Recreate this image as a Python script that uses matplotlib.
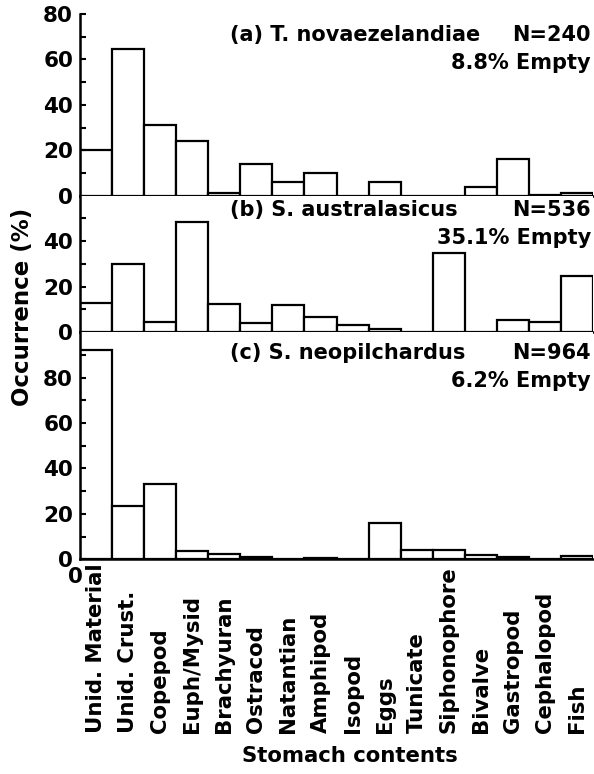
import numpy as np
import matplotlib
matplotlib.use("Agg")
import matplotlib.pyplot as plt

# stomach contents categories
categories = ["Unid. Material", "Unid. Crust.", "Copepod", "Euph/Mysid", "Brachyuran",
              "Ostracod", "Natantian", "Amphipod", "Isopod", "Eggs", "Tunicate",
              "Siphonophore", "Bivalve", "Gastropod", "Cephalopod", "Fish"]

# occurrence (%) per species
occ_a = [20, 64.5, 31, 24, 1, 14, 6, 10, 0, 6, 0, 0, 4, 16, 0.3, 1]
occ_b = [13, 30, 4.5, 48.5, 12.5, 4, 12, 6.5, 3, 1.3, 0, 35, 0, 5.5, 4.5, 24.5]
occ_c = [92, 23.5, 33, 3.8, 2.2, 1.1, 0, 0.4, 0, 16, 4, 4, 2, 1, 0.3, 1.5]

species = ["(a) T. novaezelandiae", "(b) S. australasicus", "(c) S. neopilchardus"]
n_fish = ["N=240", "N=536", "N=964"]
empty = ["8.8% Empty", "35.1% Empty", "6.2% Empty"]
ylims = [80, 60, 100]
yticks = [[0, 20, 40, 60, 80], [0, 20, 40], [0, 20, 40, 60, 80]]

plt.rcParams['font.family'] = 'DejaVu Sans'
plt.rcParams['font.weight'] = 'bold'

fig = plt.figure(figsize=(5.94, 7.74), dpi=100)
gs = fig.add_gridspec(3, 1, height_ratios=ylims, hspace=0,
                      left=80/594, right=593/594, top=1-14/774, bottom=1-559.3/774)

x = np.arange(len(categories))
axes = []
for i, vals in enumerate([occ_a, occ_b, occ_c]):
    ax = fig.add_subplot(gs[i])
    ax.bar(x, vals, width=1, align='edge', color='white', edgecolor='black', linewidth=1.6)
    ax.set_xlim(0, len(categories))
    ax.set_ylim(0, ylims[i])
    ax.set_yticks(yticks[i])
    ax.set_yticks(np.arange(10, ylims[i], 20), minor=True)
    ax.tick_params(axis='y', which='both', direction='in', length=4.3, width=1.5,
                   labelsize=15.5, pad=5)
    ax.set_xticks([])
    for s in ['top', 'right']:
        ax.spines[s].set_visible(False)
    for s in ['left', 'bottom']:
        ax.spines[s].set_linewidth(1.8)
    dy1 = 21 if i != 1 else 14.5
    dy2 = dy1 + 28
    ax.annotate(species[i], xy=(0.293, 1), xycoords='axes fraction',
                xytext=(0, -dy1*0.72), textcoords='offset points',
                ha='left', va='center', fontsize=15, fontweight='bold')
    ax.annotate(n_fish[i], xy=(0.996, 1), xycoords='axes fraction',
                xytext=(0, -dy1*0.72), textcoords='offset points',
                ha='right', va='center', fontsize=15, fontweight='bold')
    ax.annotate(empty[i], xy=(0.996, 1), xycoords='axes fraction',
                xytext=(0, -dy2*0.72), textcoords='offset points',
                ha='right', va='center', fontsize=15, fontweight='bold')
    axes.append(ax)

ax3 = axes[2]
# category labels under bar centres, text starts aligned at the bottom
for xi, lab in zip(x, categories):
    ax3.annotate(lab, xy=(xi + 0.5, 0), xycoords=('data', 'axes fraction'),
                 xytext=(0, -(733-559.3)*0.72), textcoords='offset points',
                 rotation=90, ha='center', va='bottom', fontsize=15.3, fontweight='bold')

ax3.annotate("0", xy=(0, 0), xycoords=('data', 'axes fraction'),
             xytext=(-3, -18*0.72), textcoords='offset points',
             ha='center', va='center', fontsize=15.5, fontweight='bold')

fig.text(23/594, 1-307/774, "Occurrence (%)", rotation=90, ha='center', va='center',
         fontsize=16.5, fontweight='bold')
fig.text(350/594, 1-756/774, "Stomach contents", ha='center', va='center',
         fontsize=15.3, fontweight='bold')

fig.savefig("out.png", dpi=100)
